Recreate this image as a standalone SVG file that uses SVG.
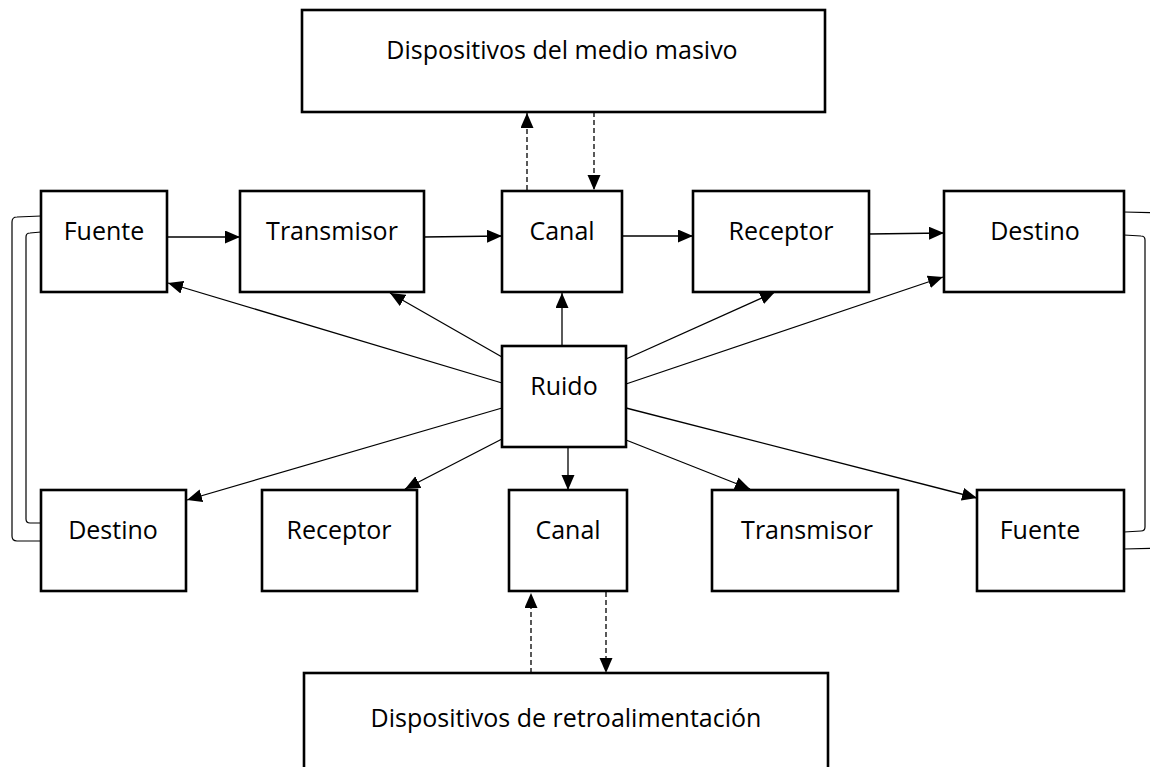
<svg xmlns="http://www.w3.org/2000/svg" width="1150" height="767" viewBox="0 0 1150 767">
<style>
.box{fill:#fff;stroke:#000;stroke-width:2.6}
.lbl{font-family:"Open Sans","Liberation Sans",sans-serif;font-size:25px;fill:#000;text-anchor:middle}
.arr{fill:none;stroke:#000;stroke-width:1.3;marker-end:url(#ah)}
.dash{fill:none;stroke:#000;stroke-width:1.3;stroke-dasharray:5 3;marker-end:url(#ah)}
.br{fill:none;stroke:#000;stroke-width:1.2}
</style>
<defs>
<marker id="ah" markerUnits="userSpaceOnUse" markerWidth="16" markerHeight="14" refX="15" refY="6.5" orient="auto">
<path d="M0,0 L15,6.5 L0,13 z" fill="#000"/>
</marker>
</defs>
<rect width="1150" height="767" fill="#fff"/>
<g id="connectors">
<path class="arr" d="M167,237 L240,237"/>
<path class="arr" d="M424,237 L502,236"/>
<path class="arr" d="M622,236 L693,236"/>
<path class="arr" d="M869,234 L944,233"/>
<path class="arr" d="M502,357 L390,293"/>
<path class="arr" d="M502,383 L168,283"/>
<path class="arr" d="M502,408 L187,500"/>
<path class="arr" d="M502,439 L405,489"/>
<path class="arr" d="M562,346 L562,293"/>
<path class="arr" d="M568,447 L568,490"/>
<path class="arr" d="M626,359 L775,292"/>
<path class="arr" d="M626,384 L943,277"/>
<path class="arr" d="M626,408 L977,498"/>
<path class="arr" d="M626,440 L750,489"/>
<path class="dash" d="M527,190 L527,113"/>
<path class="dash" d="M594,112 L594,190"/>
<path class="dash" d="M531,673 L531,593"/>
<path class="dash" d="M606,592 L606,673"/>
<path class="br" d="M41,216 L17,217 Q12,217 12,222 L12,536 Q12,541 17,541 L41,541"/>
<path class="br" d="M41,232 L30,233 Q26,233 26,237 L26,519 Q26,523 30,523 L41,523"/>
<path class="br" d="M1124,212 L1160,213"/>
<path class="br" d="M1124,549 L1160,548"/>
<path class="br" d="M1124,235 L1141,236 Q1145,236 1145,240 L1145,527 Q1145,531 1141,531 L1124,532"/>
</g>
<g id="medio"><rect class="box" x="302" y="10" width="523" height="102"/><text class="lbl" x="562" y="59">Dispositivos del medio masivo</text></g>
<g id="retro"><rect class="box" x="304" y="673" width="524" height="130"/><text class="lbl" x="566" y="727">Dispositivos de retroalimentación</text></g>
<g id="fuente1"><rect class="box" x="41" y="191" width="126" height="101"/><text class="lbl" x="104" y="240">Fuente</text></g>
<g id="transmisor1"><rect class="box" x="240" y="191" width="184" height="101"/><text class="lbl" x="332" y="240">Transmisor</text></g>
<g id="canal1"><rect class="box" x="502" y="191" width="120" height="101"/><text class="lbl" x="562" y="240">Canal</text></g>
<g id="receptor1"><rect class="box" x="693" y="191" width="176" height="101"/><text class="lbl" x="781" y="240">Receptor</text></g>
<g id="destino1"><rect class="box" x="944" y="191" width="180" height="101"/><text class="lbl" x="1035" y="240">Destino</text></g>
<g id="ruido"><rect class="box" x="502" y="346" width="124" height="101"/><text class="lbl" x="564" y="395">Ruido</text></g>
<g id="destino2"><rect class="box" x="41" y="490" width="145" height="101"/><text class="lbl" x="113" y="539">Destino</text></g>
<g id="receptor2"><rect class="box" x="262" y="490" width="155" height="101"/><text class="lbl" x="339" y="539">Receptor</text></g>
<g id="canal2"><rect class="box" x="509" y="490" width="118" height="101"/><text class="lbl" x="568" y="539">Canal</text></g>
<g id="transmisor2"><rect class="box" x="712" y="490" width="186" height="101"/><text class="lbl" x="807" y="539">Transmisor</text></g>
<g id="fuente2"><rect class="box" x="977" y="490" width="147" height="101"/><text class="lbl" x="1040" y="539">Fuente</text></g>
</svg>
